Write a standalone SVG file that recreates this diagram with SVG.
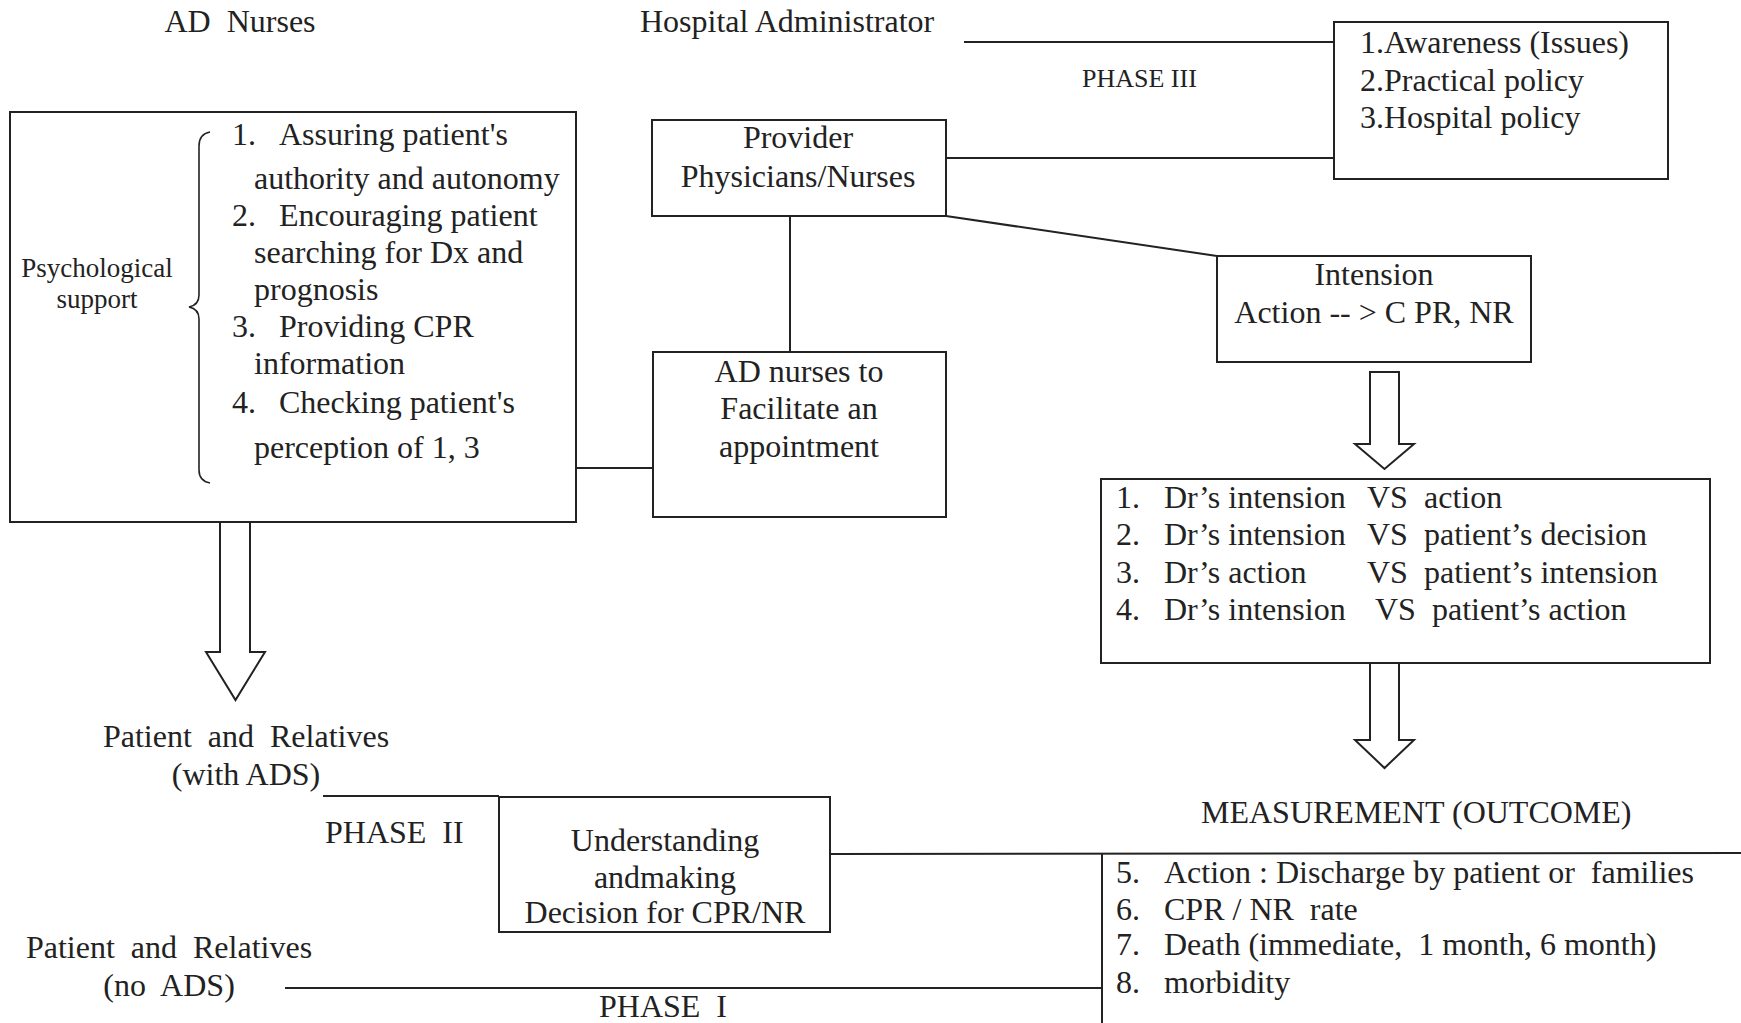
<svg xmlns="http://www.w3.org/2000/svg" width="1741" height="1023" viewBox="0 0 1741 1023">
<style>
.t{font-family:"Liberation Serif","Times New Roman",serif;font-size:32px;fill:#222}
.s{font-size:27px}
.p3{font-size:26px}
.c{text-anchor:middle}
.box{fill:none;stroke:#222;stroke-width:2}
.ln{fill:none;stroke:#222;stroke-width:2}
.arr{fill:#fff;stroke:#222;stroke-width:2;stroke-linejoin:miter}
</style>
<rect width="1741" height="1023" fill="#fff"/>

<g id="connectors">
  <line class="ln" x1="964" y1="42" x2="1334" y2="42"/>
  <line class="ln" x1="946" y1="158" x2="1334" y2="158"/>
  <line class="ln" x1="946" y1="216" x2="1217" y2="256"/>
  <line class="ln" x1="790" y1="216" x2="790" y2="352"/>
  <line class="ln" x1="576" y1="468" x2="653" y2="468"/>
  <line class="ln" x1="323" y1="796" x2="499" y2="796"/>
  <line class="ln" x1="830" y1="854" x2="1741" y2="853"/>
  <line class="ln" x1="1102" y1="853" x2="1102" y2="1023"/>
  <line class="ln" x1="285" y1="988" x2="1102" y2="988"/>
  <path id="arrow-left" class="arr" d="M220,522 L220,652 L206,652 L235.5,700 L265,652 L250,652 L250,522"/>
  <path id="arrow-intension" class="arr" d="M1370,372 L1399,372 L1399,444 L1414,444 L1384.5,469 L1355,444 L1370,444 Z"/>
  <path id="arrow-measure" class="arr" d="M1370,663 L1370,740 L1355,740 L1384.5,768 L1414,740 L1399,740 L1399,663"/>
</g>

<g id="ad-nurses-label">
  <text class="t c" x="240" y="32" xml:space="preserve">AD  Nurses</text>
</g>
<g id="hospital-admin-label">
  <text class="t" x="640" y="32">Hospital Administrator</text>
</g>
<g id="phase3-label">
  <text class="t p3" x="1082" y="87">PHASE III</text>
</g>

<g id="awareness-box">
  <rect class="box" x="1334" y="22" width="334" height="157"/>
  <text class="t" x="1360" y="53">1.Awareness (Issues)</text>
  <text class="t" x="1360" y="91">2.Practical policy</text>
  <text class="t" x="1360" y="128">3.Hospital policy</text>
</g>

<g id="provider-box">
  <rect class="box" x="652" y="120" width="294" height="96"/>
  <text class="t c" x="798" y="148">Provider</text>
  <text class="t c" x="798" y="187">Physicians/Nurses</text>
</g>

<g id="psych-box">
  <rect class="box" x="10" y="112" width="566" height="410"/>
  <text class="t s c" x="97" y="277">Psychological</text>
  <text class="t s c" x="97" y="308">support</text>
  <path class="ln" style="stroke-width:1.6" d="M210,132 Q199,134 199,146 L199,295 Q199,305 189,307 Q199,309 199,319 L199,470 Q199,481 210,483"/>
  <text class="t" x="232" y="145">1.</text>
  <text class="t" x="279" y="145">Assuring patient's</text>
  <text class="t" x="254" y="189">authority and autonomy</text>
  <text class="t" x="232" y="226">2.</text>
  <text class="t" x="279" y="226">Encouraging patient</text>
  <text class="t" x="254" y="263">searching for Dx and</text>
  <text class="t" x="254" y="300">prognosis</text>
  <text class="t" x="232" y="337">3.</text>
  <text class="t" x="279" y="337">Providing CPR</text>
  <text class="t" x="254" y="374">information</text>
  <text class="t" x="232" y="413">4.</text>
  <text class="t" x="279" y="413">Checking patient's</text>
  <text class="t" x="254" y="458">perception of 1, 3</text>
</g>

<g id="ad-facilitate-box">
  <rect class="box" x="653" y="352" width="293" height="165"/>
  <text class="t c" x="799" y="382">AD nurses to</text>
  <text class="t c" x="799" y="419">Facilitate an</text>
  <text class="t c" x="799" y="457">appointment</text>
</g>

<g id="intension-box">
  <rect class="box" x="1217" y="256" width="314" height="106"/>
  <text class="t c" x="1374" y="285">Intension</text>
  <text class="t c" x="1374" y="323">Action -- &gt; C PR, NR</text>
</g>

<g id="comparison-box">
  <rect class="box" x="1101" y="479" width="609" height="184"/>
  <text class="t" x="1116" y="508">1.</text>
  <text class="t" x="1164" y="508">Dr’s intension</text>
  <text class="t" x="1367" y="508">VS</text>
  <text class="t" x="1424" y="508">action</text>
  <text class="t" x="1116" y="545">2.</text>
  <text class="t" x="1164" y="545">Dr’s intension</text>
  <text class="t" x="1367" y="545">VS</text>
  <text class="t" x="1424" y="545">patient’s decision</text>
  <text class="t" x="1116" y="583">3.</text>
  <text class="t" x="1164" y="583">Dr’s action</text>
  <text class="t" x="1367" y="583">VS</text>
  <text class="t" x="1424" y="583">patient’s intension</text>
  <text class="t" x="1116" y="620">4.</text>
  <text class="t" x="1164" y="620">Dr’s intension</text>
  <text class="t" x="1375" y="620">VS</text>
  <text class="t" x="1432" y="620">patient’s action</text>
</g>

<g id="patient-with-ads">
  <text class="t c" x="246" y="747" xml:space="preserve">Patient  and  Relatives</text>
  <text class="t c" x="246" y="785">(with ADS)</text>
</g>

<g id="phase2-label">
  <text class="t" x="325" y="843" xml:space="preserve">PHASE  II</text>
</g>

<g id="understanding-box">
  <rect class="box" x="499" y="797" width="331" height="135"/>
  <text class="t c" x="665" y="851">Understanding</text>
  <text class="t c" x="665" y="888">andmaking</text>
  <text class="t c" x="665" y="923">Decision for CPR/NR</text>
</g>

<g id="patient-no-ads">
  <text class="t c" x="169" y="958" xml:space="preserve">Patient  and  Relatives</text>
  <text class="t c" x="169" y="996" xml:space="preserve">(no  ADS)</text>
</g>

<g id="phase1-label">
  <text class="t" x="599" y="1017" xml:space="preserve">PHASE  I</text>
</g>

<g id="measurement">
  <text class="t" x="1201" y="823">MEASUREMENT (OUTCOME)</text>
  <text class="t" x="1116" y="883">5.</text>
  <text class="t" x="1164" y="883" xml:space="preserve">Action : Discharge by patient or  families</text>
  <text class="t" x="1116" y="920">6.</text>
  <text class="t" x="1164" y="920" xml:space="preserve">CPR / NR  rate</text>
  <text class="t" x="1116" y="955">7.</text>
  <text class="t" x="1164" y="955" xml:space="preserve">Death (immediate,  1 month, 6 month)</text>
  <text class="t" x="1116" y="993">8.</text>
  <text class="t" x="1164" y="993">morbidity</text>
</g>
</svg>
